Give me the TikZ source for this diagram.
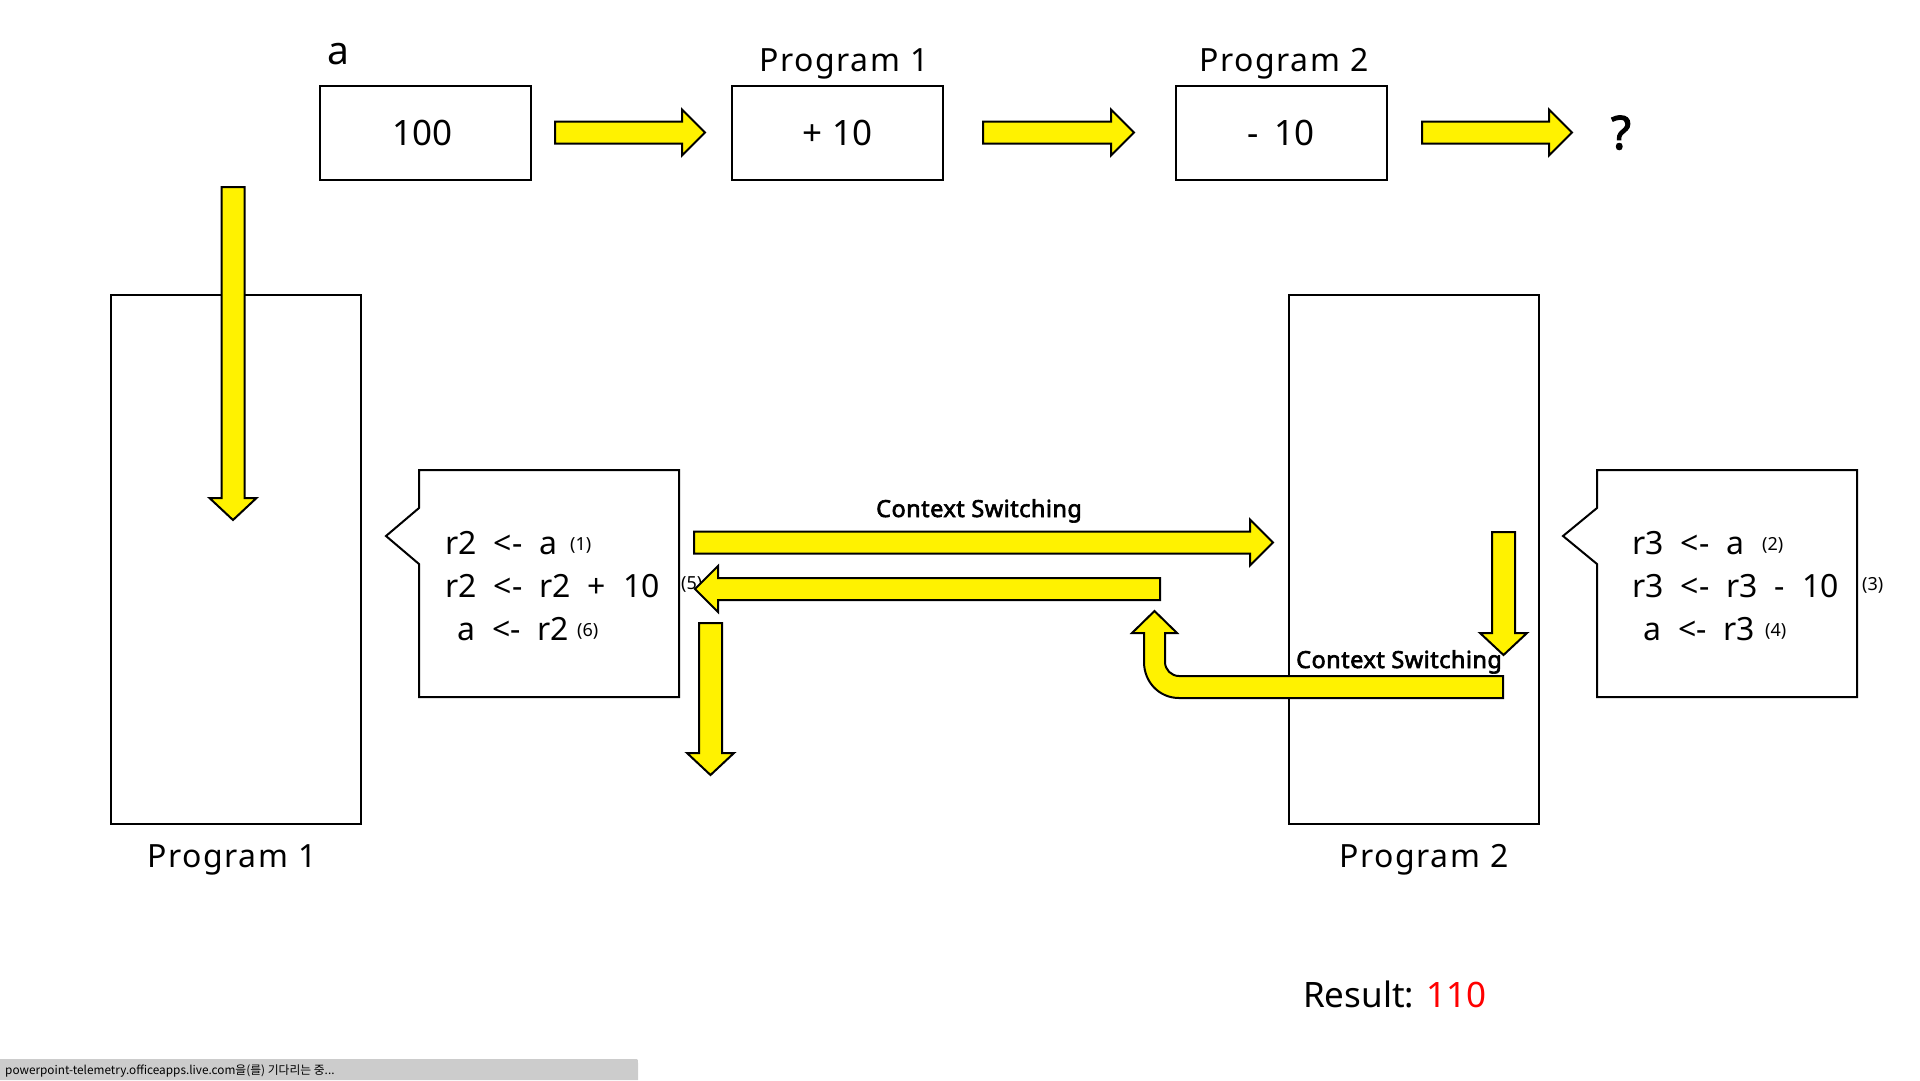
\documentclass[tikz,border=0pt]{standalone}
\usepackage{fontspec}
\setmainfont{Noto Sans}
\newfontfamily\boldfont{Noto Sans}[FakeBold=2.6]
\newfontfamily\krfont{Noto Sans CJK KR}
\newcommand\blkright[3]{\draw[blk] (#1,{#3-11}) -- ({#2-23},{#3-11}) -- ({#2-23},{#3-23}) -- (#2,#3) -- ({#2-23},{#3+23}) -- ({#2-23},{#3+11}) -- (#1,{#3+11}) -- cycle;}
\newcommand\blkleft[3]{\draw[blk] (#1,{#3-11}) -- ({#2+23},{#3-11}) -- ({#2+23},{#3-23}) -- (#2,#3) -- ({#2+23},{#3+23}) -- ({#2+23},{#3+11}) -- (#1,{#3+11}) -- cycle;}
\newcommand\blkdown[3]{\draw[blk] ({#1-11.5},#2) -- ({#1-11.5},{#3-22}) -- ({#1-23.5},{#3-22}) -- (#1,#3) -- ({#1+23.5},{#3-22}) -- ({#1+11.5},{#3-22}) -- ({#1+11.5},#2) -- cycle;}
\newcommand\widesp{\spaceskip=17pt\relax}
\begin{document}
\begin{tikzpicture}[x=1pt,y=-1pt,
  box/.style={draw, line width=2pt, inner sep=0pt},
  blk/.style={draw, fill=yellow, line width=2pt, line join=miter},
  big/.style={inner sep=0pt, font=\fontsize{35}{40}\selectfont},
  lbl/.style={inner sep=0pt, font=\fontsize{32}{36}\selectfont\addfontfeature{LetterSpace=5}},
  code/.style={inner sep=0pt, anchor=base west, font=\fontsize{32}{36}\selectfont, execute at begin node=\widesp},
  num/.style={inner sep=0pt, anchor=base west, font=\fontsize{18}{20}\selectfont},
  cs/.style={inner sep=0pt, anchor=base west, font=\boldfont\fontsize{23.5}{26}\selectfont\addfontfeature{LetterSpace=2}}]
\useasboundingbox (0,0) rectangle (1920,1080);

% top row
\node[box, big, minimum width=211, minimum height=94] (va) at (425.5,133) {\hspace*{-6pt}100};
\node[box, big, minimum width=211, minimum height=94] (vp1) at (837.5,133) {+ 10};
\node[box, big, minimum width=211, minimum height=94] (vp2) at (1281,133) {-\, 10};
\node[inner sep=0pt, anchor=base west, font=\fontsize{39}{40}\selectfont] (la) at (327,64) {a};
\node[lbl, anchor=base] (lp1) at (844,71) {Program 1};
\node[lbl, anchor=base] (lp2) at (1284,71) {Program 2};
\node[inner sep=0pt, anchor=base, font=\boldfont\fontsize{46}{50}\selectfont] (q) at (1621,149) {?};
\blkright{555}{705}{132.5}
\blkright{983}{1134}{132.5}
\blkright{1422}{1572}{132.5}

% program boxes
\node[box, minimum width=250, minimum height=529] (p1) at (236,559.5) {};
\node[box, minimum width=250, minimum height=529] (p2) at (1414,559.5) {};
\node[lbl, anchor=base] (p1l) at (232,867) {Program 1};
\node[lbl, anchor=base] (p2l) at (1424,867) {Program 2};

% callouts
\draw[line width=2pt] (419,470) -- (679,470) -- (679,697) -- (419,697) -- (419,564) -- (386,536) -- (419,508) -- cycle;
\draw[line width=2pt] (1597,470) -- (1857,470) -- (1857,697) -- (1597,697) -- (1597,564) -- (1563,536) -- (1597,508) -- cycle;

\node[code] (c11) at (445,554) {r2 <- a};
\node[num] (n1) at (570,550) {(1)};
\node[code] (c12) at (445,597) {r2 <- r2 + 10};
\node[num] (n5) at (681,589) {(5)};
\node[code] (c13) at (457,640) {a <- r2};
\node[num] (n6) at (577,636) {(6)};

\node[code] (c21) at (1632,554) {r3 <- a};
\node[num] (n2) at (1762,550) {(2)};
\node[code] (c22) at (1632,597) {r3 <- r3 - 10};
\node[num] (n3) at (1862,590) {(3)};
\node[code] (c23) at (1643,640) {a <- r3};
\node[num] (n4) at (1765,636) {(4)};

% arrows
\blkdown{233}{187}{520}
\blkright{694}{1273}{542.5}
\blkleft{1160}{695}{589}
\blkdown{710.5}{623}{775}
\blkdown{1503.5}{532}{655}
\draw[blk] (1503,676) -- (1179,676) .. controls (1171.3,676) and (1165,669.7) .. (1165,662)
  -- (1165,633) -- (1177,633) -- (1154.5,611) -- (1132,633) -- (1144,633) -- (1144,662)
  .. controls (1144,681.9) and (1159.1,698) .. (1179,698) -- (1503,698) -- cycle;

\node[cs] (cs1) at (876,517) {Context Switching};
\node[cs] (cs2) at (1296,668) {Context Switching};

% result
\node[inner sep=0pt, anchor=base west, font=\fontsize{35}{40}\selectfont] (res) at (1303,1007) {Result: \textcolor{red}{110}};

% status bar
\fill[gray!40] (0,1059) -- (634,1059) .. controls (638,1059) .. (638,1063) -- (638,1080) -- (0,1080) -- cycle;
\node[inner sep=0pt, anchor=base west, font=\krfont\fontsize{11.8}{12}\selectfont] (sb) at (5,1074) {powerpoint-telemetry.officeapps.live.com을(를) 기다리는 중...};
\end{tikzpicture}
\end{document}
